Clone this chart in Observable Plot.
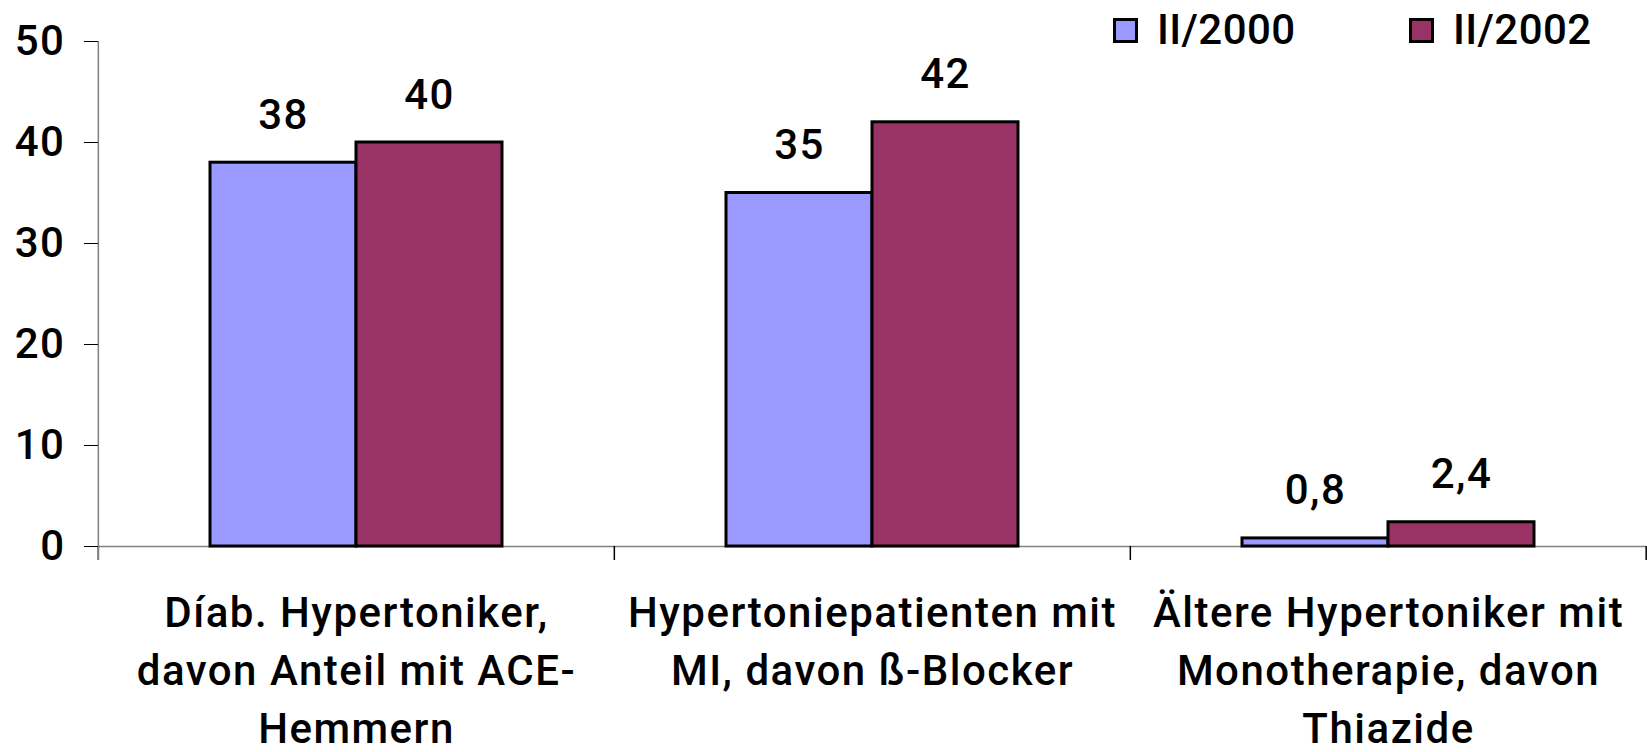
<!DOCTYPE html>
<html>
<head>
<meta charset="utf-8">
<script src="https://cdn.jsdelivr.net/npm/d3@7"></script>
<script src="https://cdn.jsdelivr.net/npm/@observablehq/plot@0.6"></script>
<style>
  body { margin: 0; background: #fff; font-family: Roboto, sans-serif; }
  #wrap { position: relative; width: 1647px; height: 752px; overflow: hidden; }
  #legend { position: absolute; top: 0; left: 0; width: 1647px; height: 60px; }
  .key { position: absolute; top: 9px; display: flex; align-items: center; font-size: 42px; font-weight: 500; line-height: 1; color: #000; letter-spacing: 0.4px; }
  .sw { width: 19px; height: 19px; border: 3px solid #000; margin-right: 19px; }
</style>
</head>
<body>
<div id="wrap"><div id="legend"></div></div>
<script>
// ---- data ----
const categories = [
  "Díab. Hypertoniker,\ndavon Anteil mit ACE-\nHemmern",
  "Hypertoniepatienten mit\nMI, davon ß-Blocker",
  "Ältere Hypertoniker mit\nMonotherapie, davon\nThiazide"
];
const series = ["II/2000", "II/2002"];
const values2000 = [38, 35, 0.8];
const values2002 = [40, 42, 2.4];
const colors = ["#9999FF", "#993366"];
const yTicks = [0, 10, 20, 30, 40, 50];

// ---- layout ----
const W = 1647, H = 752;
const mL = 97, mR = 1, mT = 41, mB = 206;
const facetW = (W - mL - mR) / categories.length;

const rows = [];
categories.forEach((c, i) => {
  rows.push({category: c, series: series[0], value: values2000[i]});
  rows.push({category: c, series: series[1], value: values2002[i]});
});
const fmt = v => String(v).replace(".", ",");

const chart = Plot.plot({
  width: W, height: H,
  marginLeft: mL, marginRight: mR, marginTop: mT, marginBottom: mB,
  style: {fontFamily: "Roboto, sans-serif", fontSize: "42px", fontWeight: 500, color: "#000", background: "#fff", overflow: "visible", letterSpacing: "1.5px"},
  fx: {domain: categories, padding: 0},
  x: {domain: series, paddingInner: 0, paddingOuter: 0.757, axis: null},
  y: {domain: [0, 50]},
  color: {domain: series, range: colors},
  marks: [
    Plot.ruleY([0], {stroke: "#808080", strokeWidth: 1.5}),
    // category separator ticks below the baseline
    Plot.ruleX(categories, {fx: d => d, x: null, y1: 0, y2: 0, dx: -facetW / 2, insetBottom: -14, stroke: "#000", strokeWidth: 1.5}),
    Plot.ruleX(categories.slice(-1), {fx: d => d, x: null, y1: 0, y2: 0, dx: facetW / 2 - 0.5, insetBottom: -14, stroke: "#000", strokeWidth: 1.5}),
    // y axis line
    Plot.ruleX(categories.slice(0, 1), {fx: d => d, x: null, y1: 50, y2: 0, dx: -facetW / 2, insetBottom: -14, stroke: "#808080", strokeWidth: 1.5}),
    Plot.barY(rows, {fx: "category", x: "series", y: "value", fill: "series", stroke: "#000", strokeWidth: 3}),
    Plot.text(rows, {fx: "category", x: "series", y: "value", text: d => fmt(d.value), lineAnchor: "bottom", dy: -34, fontSize: 42, fill: "#000"}),
    Plot.axisY({ticks: yTicks, tickSize: 14, tickPadding: 19, label: null, fontSize: 42, stroke: "#000"}),
    Plot.axisFx({anchor: "bottom", tickSize: 0, tickPadding: 39, label: null, lineHeight: 1.385, fontSize: 42})
  ]
});
document.getElementById("wrap").prepend(chart);

// legend (HTML, overlaid at the top right)
const legend = document.getElementById("legend");
const legendLeft = [1113, 1409];
series.forEach((s, i) => {
  const k = document.createElement("div");
  k.className = "key";
  k.style.left = legendLeft[i] + "px";
  const sw = document.createElement("div");
  sw.className = "sw";
  sw.style.background = colors[i];
  const t = document.createElement("span");
  t.textContent = s;
  k.append(sw, t);
  legend.append(k);
});
</script>
</body>
</html>
